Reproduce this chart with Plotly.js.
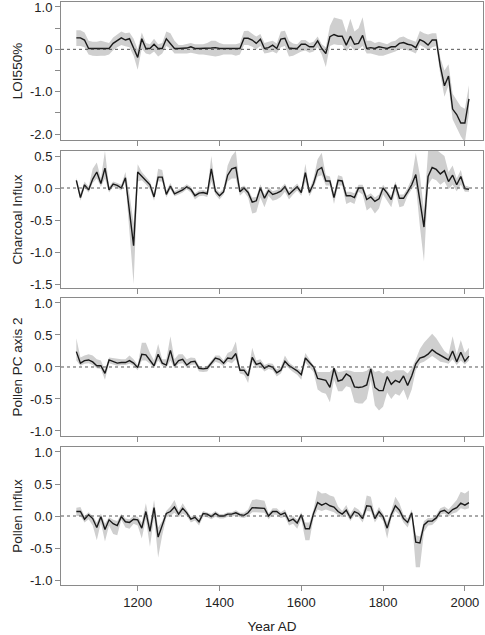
<!DOCTYPE html>
<html>
<head>
<meta charset="utf-8">
<script src="https://cdn.plot.ly/plotly-3.0.1.min.js"></script>
<style>
  html, body { margin: 0; padding: 0; background: #fff; }
  #chart { width: 485px; height: 635px; }
</style>
</head>
<body>
<div id="chart"></div>
<script>
const years = [1050,1060,1070,1080,1090,1100,1110,1120,1130,1140,
  1150,1160,1170,1180,1190,1200,1210,1220,1230,1240,
  1250,1260,1270,1280,1290,1300,1310,1320,1330,1340,
  1350,1360,1370,1380,1390,1400,1410,1420,1430,1440,
  1450,1460,1470,1480,1490,1500,1510,1520,1530,1540,
  1550,1560,1570,1580,1590,1600,1610,1620,1630,1640,
  1650,1660,1670,1680,1690,1700,1710,1720,1730,1740,
  1750,1760,1770,1780,1790,1800,1810,1820,1830,1840,
  1850,1860,1870,1880,1890,1900,1910,1920,1930,1940,
  1950,1960,1970,1980,1990,2000,2010];

// LOI550%
const loiVal = [0.27,0.27,0.22,0.02,0.02,0.02,0.02,0.02,0.02,0.14,
  0.2,0.27,0.22,0.25,0.03,-0.19,0.25,0.02,0.02,0.12,
  0.02,0.02,0.25,0.14,0.02,0.02,0.02,0.03,0.06,0.02,
  0.02,0.02,0.02,0.03,0.04,0.02,0.02,0.02,0.02,0.02,
  0.02,0.26,0.26,0.22,0.14,0.24,0.02,0.04,0.1,0.02,
  0.24,0.26,0.03,0.02,0.02,0.12,0.12,0.06,0.06,0.2,
  0.02,-0.1,0.3,0.35,0.31,0.31,0.1,0.31,0.12,0.14,
  0.33,0.02,0.04,0.02,0.06,0.04,0.02,0.06,0.06,0.14,
  0.16,0.12,0.1,0.04,0.23,0.18,0.1,0.22,0.22,-0.4,
  -0.86,-0.63,-1.41,-1.54,-1.74,-1.74,-1.17];
const loiLo = [0.08,0.08,0.05,-0.12,-0.15,-0.16,-0.15,-0.15,-0.12,-0.02,
  0.05,0.1,0.07,0.05,-0.15,-0.48,0.02,-0.1,-0.12,-0.05,
  -0.17,-0.1,0.08,0.02,-0.1,-0.1,-0.1,-0.1,-0.08,-0.1,
  -0.12,-0.12,-0.14,-0.15,-0.17,-0.15,-0.12,-0.12,-0.12,-0.15,
  -0.12,0.1,0.1,0.06,0.0,0.08,-0.1,-0.08,-0.05,-0.1,
  0.05,0.08,-0.17,-0.15,-0.1,-0.05,-0.03,-0.08,-0.05,0.05,
  -0.12,-0.42,0.08,0.12,0.1,0.1,-0.05,0.08,-0.03,0.0,
  0.08,-0.1,-0.1,-0.12,-0.15,-0.15,-0.12,-0.08,-0.05,0.0,
  0.02,-0.02,-0.05,-0.1,0.1,0.05,-0.02,0.05,0.08,-0.6,
  -1.12,-0.85,-1.65,-1.85,-2.05,-2.2,-1.5];
const loiHi = [0.45,0.45,0.4,0.2,0.18,0.18,0.2,0.18,0.15,0.28,
  0.35,0.42,0.38,0.4,0.25,0.0,0.4,0.15,0.12,0.25,
  0.12,0.15,0.42,0.38,0.2,0.1,0.1,0.12,0.15,0.12,
  0.12,0.12,0.15,0.2,0.2,0.15,0.12,0.12,0.12,0.12,
  0.15,0.43,0.44,0.38,0.3,0.36,0.15,0.18,0.2,0.14,
  0.42,0.44,0.2,0.14,0.12,0.22,0.22,0.15,0.18,0.3,
  0.12,0.05,0.55,0.75,0.72,0.7,0.4,0.72,0.42,0.5,
  0.76,0.2,0.2,0.15,0.18,0.15,0.12,0.18,0.2,0.28,
  0.3,0.25,0.22,0.18,0.43,0.38,0.35,0.38,0.38,-0.2,
  -0.5,-0.35,-1.05,-1.2,-1.35,-1.4,-0.85];

// Charcoal Influx
const charVal = [0.12,-0.15,0.05,-0.03,0.14,0.25,0.07,0.31,-0.03,0.06,
  0.04,0.0,0.16,-0.37,-0.9,0.25,0.18,0.12,0.05,-0.14,
  0.17,0.17,-0.1,0.03,-0.09,-0.06,-0.03,0.02,-0.02,-0.12,
  -0.08,-0.07,-0.09,0.3,-0.05,-0.12,-0.06,0.2,0.3,0.32,
  -0.06,0.0,-0.07,-0.22,-0.2,0.0,-0.16,-0.04,-0.1,-0.08,
  -0.05,0.02,-0.1,-0.04,0.02,-0.07,0.24,-0.07,0.07,0.28,
  0.32,0.11,0.11,-0.15,0.12,0.11,-0.12,-0.12,-0.15,0.0,
  0.0,-0.18,-0.14,-0.21,-0.17,0.0,-0.08,-0.18,0.05,-0.16,
  -0.16,-0.06,0.05,0.21,-0.2,-0.61,0.18,0.32,0.29,0.22,
  0.27,0.1,0.2,0.05,0.18,-0.01,-0.02];
const charLo = [0.08,-0.2,0.0,-0.07,0.08,0.15,0.02,0.15,-0.07,0.02,
  0.0,-0.04,0.1,-0.7,-1.5,0.1,0.12,0.06,-0.02,-0.2,
  0.1,0.1,-0.15,-0.02,-0.13,-0.1,-0.07,-0.02,-0.07,-0.18,
  -0.13,-0.12,-0.14,0.1,-0.1,-0.18,-0.1,0.1,0.15,0.15,
  -0.12,-0.06,-0.15,-0.4,-0.38,-0.15,-0.3,-0.12,-0.2,-0.18,
  -0.14,-0.06,-0.18,-0.1,-0.04,-0.12,0.1,-0.13,0.0,0.18,
  0.2,0.04,0.04,-0.25,0.04,0.04,-0.25,-0.22,-0.25,-0.06,
  -0.1,-0.35,-0.3,-0.4,-0.32,-0.1,-0.2,-0.3,-0.05,-0.3,
  -0.28,-0.12,-0.02,0.05,-0.6,-1.15,0.05,0.15,0.12,0.05,
  0.1,-0.02,0.05,-0.05,0.05,-0.06,-0.06];
const charHi = [0.16,-0.08,0.1,0.02,0.3,0.4,0.15,0.58,0.02,0.1,
  0.08,0.05,0.25,-0.1,-0.55,0.37,0.25,0.18,0.1,-0.08,
  0.3,0.28,-0.04,0.08,-0.05,-0.02,0.01,0.06,0.02,-0.08,
  -0.04,-0.03,-0.05,0.5,0.0,-0.07,-0.01,0.35,0.5,0.58,
  0.0,0.04,-0.02,-0.15,-0.14,0.06,-0.1,0.01,-0.05,-0.03,
  0.0,0.07,-0.05,0.01,0.07,-0.02,0.38,-0.02,0.15,0.45,
  0.55,0.2,0.18,-0.08,0.2,0.18,-0.06,-0.06,-0.08,0.05,
  0.05,-0.12,-0.08,-0.15,-0.1,0.05,-0.03,-0.12,0.1,-0.1,
  -0.1,0.0,0.15,0.55,0.2,-0.35,0.58,0.6,0.6,0.55,
  0.5,0.25,0.35,0.15,0.28,0.04,0.02];

// Pollen PC axis 2
const pcVal = [0.24,0.06,0.1,0.11,0.08,0.02,0.02,-0.1,0.11,0.09,
  0.06,0.07,0.07,0.1,0.06,-0.01,0.2,0.19,0.11,0.02,
  0.2,0.06,0.03,0.26,0.02,0.1,0.12,0.03,0.08,0.09,
  -0.02,-0.03,-0.02,0.06,0.14,0.12,0.06,0.14,0.13,0.21,
  -0.05,-0.05,-0.14,0.15,0.04,0.06,-0.02,0.02,0.0,-0.09,
  -0.05,0.09,0.02,-0.02,-0.06,-0.12,0.14,0.07,0.0,-0.18,
  -0.2,-0.21,-0.32,-0.02,-0.22,-0.2,-0.11,-0.15,-0.31,-0.32,
  -0.31,-0.28,-0.03,-0.32,-0.37,-0.37,-0.15,-0.27,-0.21,-0.24,
  -0.14,-0.29,-0.14,0.05,0.14,0.16,0.2,0.27,0.22,0.18,
  0.14,0.11,0.25,0.08,0.23,0.09,0.17];
const pcLo = [0.1,0.02,0.05,0.06,0.03,-0.02,-0.03,-0.2,0.06,0.04,
  0.02,0.03,0.03,0.05,0.02,-0.05,0.1,0.1,0.05,-0.02,
  0.1,0.02,-0.01,0.1,-0.02,0.05,0.06,-0.01,0.03,0.04,
  -0.07,-0.08,-0.07,0.02,0.08,0.06,0.01,0.08,0.06,0.12,
  -0.1,-0.12,-0.25,0.08,-0.02,0.0,-0.07,-0.03,-0.05,-0.15,
  -0.1,0.03,-0.03,-0.08,-0.12,-0.2,0.07,0.0,-0.08,-0.35,
  -0.4,-0.42,-0.55,-0.2,-0.38,-0.38,-0.3,-0.32,-0.55,-0.57,
  -0.57,-0.5,-0.2,-0.6,-0.68,-0.62,-0.4,-0.5,-0.42,-0.45,
  -0.35,-0.52,-0.35,-0.05,0.06,0.08,0.12,0.17,0.13,0.08,
  0.07,0.05,0.12,0.03,0.1,0.04,0.1];
const pcHi = [0.45,0.15,0.18,0.2,0.18,0.12,0.1,-0.05,0.15,0.14,
  0.12,0.12,0.12,0.18,0.12,0.03,0.38,0.38,0.22,0.1,
  0.36,0.12,0.12,0.48,0.12,0.2,0.2,0.12,0.15,0.14,
  0.02,0.0,0.02,0.1,0.18,0.18,0.1,0.22,0.25,0.4,
  -0.01,0.0,-0.08,0.3,0.1,0.12,0.03,0.06,0.05,-0.04,
  0.0,0.18,0.07,0.02,-0.02,-0.06,0.22,0.12,0.04,-0.08,
  -0.08,-0.08,-0.08,0.0,-0.08,-0.07,-0.05,-0.06,-0.08,-0.08,
  -0.08,-0.06,0.0,-0.08,-0.06,-0.1,-0.05,-0.08,-0.05,-0.05,
  -0.05,-0.1,-0.02,0.12,0.28,0.38,0.45,0.52,0.45,0.35,
  0.25,0.2,0.48,0.2,0.42,0.22,0.3];

// Pollen Influx
const pinVal = [0.07,0.07,-0.05,0.02,-0.04,-0.18,-0.01,-0.21,-0.06,-0.12,
  -0.15,-0.01,-0.09,-0.1,-0.05,-0.06,-0.19,0.07,-0.24,0.13,
  -0.33,-0.15,0.04,0.07,0.14,0.03,0.12,0.05,-0.05,-0.02,
  -0.09,0.04,0.03,-0.01,0.04,0.0,0.0,0.03,0.03,0.05,
  0.02,0.01,0.05,0.13,0.13,0.12,0.12,0.0,0.07,0.07,
  0.02,0.05,-0.08,-0.05,-0.11,0.02,-0.2,-0.2,0.04,0.21,
  0.17,0.2,0.16,0.14,0.07,0.03,0.09,-0.03,0.07,0.04,
  -0.04,0.16,0.15,-0.04,0.07,-0.01,-0.19,0.02,0.16,0.09,
  -0.04,-0.1,0.05,-0.41,-0.42,-0.14,-0.08,-0.08,-0.03,0.07,
  0.09,0.04,0.1,0.13,0.2,0.17,0.21];
const pinLo = [0.0,0.0,-0.1,-0.05,-0.15,-0.38,-0.1,-0.4,-0.15,-0.28,
  -0.3,-0.06,-0.18,-0.2,-0.12,-0.15,-0.35,-0.05,-0.48,-0.02,
  -0.65,-0.3,-0.02,0.0,0.05,-0.02,0.04,0.0,-0.1,-0.07,
  -0.15,-0.01,-0.02,-0.05,-0.01,-0.04,-0.04,-0.01,-0.01,0.01,
  -0.02,-0.03,0.0,0.06,0.06,0.05,0.05,-0.05,0.02,0.02,
  -0.03,-0.01,-0.15,-0.12,-0.2,-0.05,-0.38,-0.38,-0.03,0.1,
  0.08,0.1,0.08,0.06,0.01,-0.02,0.03,-0.08,0.01,-0.01,
  -0.1,0.08,0.07,-0.1,0.0,-0.08,-0.35,-0.04,0.08,0.02,
  -0.1,-0.18,-0.02,-0.8,-0.8,-0.25,-0.15,-0.14,-0.08,0.02,
  0.04,-0.01,0.04,0.06,0.12,0.1,0.12];
const pinHi = [0.13,0.14,0.0,0.06,0.0,-0.1,0.04,-0.12,-0.02,-0.06,
  -0.08,0.03,-0.04,-0.05,0.0,-0.01,-0.1,0.2,-0.12,0.25,
  -0.18,-0.08,0.08,0.15,0.25,0.08,0.2,0.1,-0.01,0.02,
  -0.04,0.08,0.06,0.03,0.08,0.03,0.03,0.06,0.06,0.09,
  0.05,0.05,0.1,0.25,0.26,0.25,0.24,0.04,0.12,0.12,
  0.06,0.1,-0.03,0.0,-0.06,0.06,-0.1,-0.1,0.1,0.4,
  0.35,0.36,0.32,0.3,0.15,0.08,0.17,0.03,0.14,0.1,
  0.02,0.32,0.3,0.02,0.14,0.04,-0.1,0.08,0.3,0.2,
  0.02,-0.04,0.1,-0.3,-0.32,-0.08,-0.03,-0.03,0.02,0.12,
  0.15,0.1,0.18,0.25,0.38,0.35,0.4];

const panelTitles = ['LOI550%', 'Charcoal Influx', 'Pollen PC axis 2', 'Pollen Influx'];
const xTickVals = [1200, 1400, 1600, 1800, 2000];
const xTickText = ['1200', '1400', '1600', '1800', '2000'];
const yTickVals1 = [1, 0.5, 0, -0.5, -1, -1.5, -2];
const yTickText1 = ['1.0', '', '0', '', '-1.0', '', '-2.0'];
const yTickVals2 = [0.5, 0, -0.5, -1, -1.5];
const yTickText2 = ['0.5', '0.0', '-0.5', '-1.0', '-1.5'];
const yTickVals34 = [1, 0.5, 0, -0.5, -1];
const yTickText34 = ['1.0', '0.5', '0.0', '-0.5', '-1.0'];

const series = [
  {val: loiVal, lo: loiLo, hi: loiHi, range: [-2.14, 1.117], tv: yTickVals1, tt: yTickText1, dom: [0.7633, 1.0]},
  {val: charVal, lo: charLo, hi: charHi, range: [-1.5625, 0.578], tv: yTickVals2, tt: yTickText2, dom: [0.5094, 0.7444]},
  {val: pcVal, lo: pcLo, hi: pcHi, range: [-1.078, 1.078], tv: yTickVals34, tt: yTickText34, dom: [0.2556, 0.4923]},
  {val: pinVal, lo: pinLo, hi: pinHi, range: [-1.078, 1.078], tv: yTickVals34, tt: yTickText34, dom: [0, 0.2367]}
];

const FONT = 'Liberation Sans, Arial, Helvetica, sans-serif';
const AXC = '#8a8a8a';
const traces = [];
const layout = {
  width: 485, height: 635,
  margin: {l: 61, r: 2, t: 2, b: 50},
  paper_bgcolor: '#fff', plot_bgcolor: '#fff',
  showlegend: false,
  font: {family: FONT, size: 13, color: '#222'},
  shapes: []
};

series.forEach((s, i) => {
  const n = i + 1;
  const xa = 'x' + (n === 1 ? '' : n);
  const ya = 'y' + (n === 1 ? '' : n);
  traces.push({x: years, y: s.lo, xaxis: xa, yaxis: ya, type: 'scatter', mode: 'lines',
    line: {width: 0, color: 'rgba(0,0,0,0)'}, hoverinfo: 'skip'});
  traces.push({x: years, y: s.hi, xaxis: xa, yaxis: ya, type: 'scatter', mode: 'lines',
    line: {width: 0, color: 'rgba(0,0,0,0)'}, fill: 'tonexty', fillcolor: '#cfcfcf', hoverinfo: 'skip'});
  traces.push({x: years, y: s.val, xaxis: xa, yaxis: ya, type: 'scatter', mode: 'lines',
    line: {width: 1.4, color: '#1a1a1a'}});
  layout['xaxis' + (n === 1 ? '' : n)] = {
    range: [1012.5, 2044.3], anchor: ya, domain: [0, 1],
    showgrid: false, zeroline: false,
    showline: true, mirror: true, linecolor: AXC, linewidth: 1,
    ticks: 'outside', ticklen: 5, tickcolor: AXC, tickwidth: 1,
    tickmode: 'array', tickvals: xTickVals, ticktext: xTickText,
    showticklabels: n === 4,
    tickfont: {family: FONT, size: 13, color: '#222'},
    title: n === 4 ? {text: 'Year AD', font: {family: FONT, size: 13.5, color: '#222'}, standoff: 12} : {text: ''}
  };
  layout['yaxis' + (n === 1 ? '' : n)] = {
    range: s.range, anchor: xa, domain: s.dom,
    showgrid: false, zeroline: false,
    showline: true, mirror: true, linecolor: AXC, linewidth: 1,
    ticks: 'outside', ticklen: 5, tickcolor: AXC, tickwidth: 1,
    tickmode: 'array', tickvals: s.tv, ticktext: s.tt,
    ticklabeloverflow: 'allow',
    tickfont: {family: FONT, size: 13, color: '#222'},
    title: {text: panelTitles[i], font: {family: FONT, size: 13.5, color: '#222'}, standoff: 4}
  };
  layout.shapes.push({type: 'line', xref: xa + ' domain', yref: ya, x0: 0, x1: 1, y0: 0, y1: 0,
    line: {color: '#555', width: 1, dash: 'dot'}, layer: 'above'});
});

Plotly.newPlot('chart', traces, layout, {displayModeBar: false, staticPlot: true});
</script>
</body>
</html>
